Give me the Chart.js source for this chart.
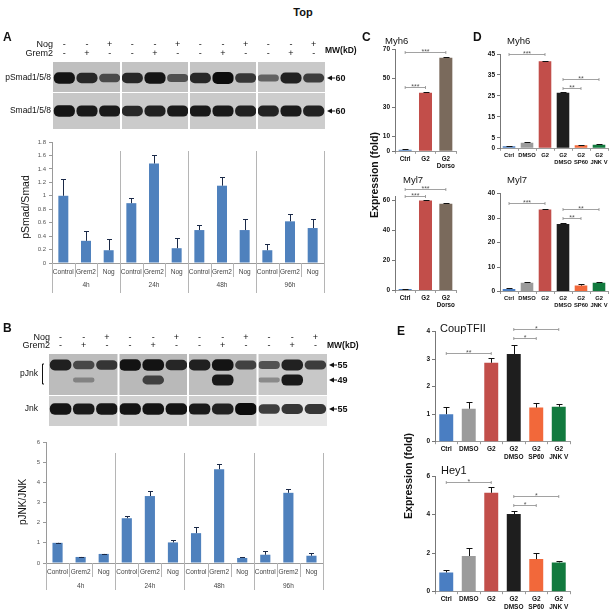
<!DOCTYPE html>
<html>
<head>
<meta charset="utf-8">
<title>Top</title>
<script src="https://cdn.jsdelivr.net/npm/chart.js@4.4.1/dist/chart.umd.min.js"></script>
<style>
  body { margin: 0; width: 615px; height: 613px; position: relative; overflow: hidden; background: #fff;
         font-family: Arial, "Liberation Sans", sans-serif; color: #111; }
  canvas { position: absolute; }
  .t { position: absolute; white-space: nowrap; line-height: 1; transform: translateY(-50%); z-index: 2; }
  .c { position: absolute; white-space: nowrap; line-height: 1; transform: translate(-50%, -50%); z-index: 2; }
  .v { position: absolute; white-space: nowrap; line-height: 1; transform: translate(-50%, -50%) rotate(-90deg); z-index: 2; }
</style>
</head>
<body>
<div class="c" style="left:303px;top:12px;font-size:11px;font-weight:bold">Top</div>
<div class="t" style="left:3px;top:37px;font-size:12px;font-weight:bold">A</div>
<div class="t" style="left:3px;top:328px;font-size:12px;font-weight:bold">B</div>
<div class="t" style="left:362px;top:37px;font-size:12px;font-weight:bold">C</div>
<div class="t" style="left:473px;top:37px;font-size:12px;font-weight:bold">D</div>
<div class="t" style="left:397px;top:331px;font-size:12px;font-weight:bold">E</div>
<div class="t" style="left:385px;top:41px;font-size:9.5px">Myh6</div>
<div class="t" style="left:507px;top:41px;font-size:9.5px">Myh6</div>
<div class="t" style="left:403px;top:180px;font-size:9.5px">Myl7</div>
<div class="t" style="left:507px;top:180px;font-size:9.5px">Myl7</div>
<div class="t" style="left:440px;top:328px;font-size:11px">CoupTFII</div>
<div class="t" style="left:441px;top:470px;font-size:11px">Hey1</div>
<div class="v" style="left:374px;top:175px;font-size:10.5px;font-weight:bold">Expression (fold)</div>
<div class="v" style="left:408px;top:476px;font-size:10.5px;font-weight:bold">Expression (fold)</div>
<div class="v" style="left:25px;top:207px;font-size:10.5px">pSmad/Smad</div>
<div class="v" style="left:23px;top:502px;font-size:10px">pJNK/JNK</div>

<script>
// ---- data ----
const timepoints = ['4h', '24h', '48h', '96h'];
const treatments = ['Control', 'Grem2', 'Nog'];
const nogSigns   = ['-', '-', '+', '-', '-', '+', '-', '-', '+', '-', '-', '+'];
const grem2Signs = ['-', '+', '-', '-', '+', '-', '-', '+', '-', '-', '+', '-'];

// band intensity (0-1) per lane
const pSmadBand  = [0.95, 0.8, 0.55, 0.8, 0.95, 0.5, 0.8, 1.0, 0.7, 0.4, 0.85, 0.65];
const smadBand   = [0.95, 0.9, 0.9, 0.8, 0.85, 0.9, 0.9, 0.9, 0.85, 0.85, 0.9, 0.85];
const pJnk55Band = [0.85, 0.55, 0.7, 0.95, 0.95, 0.8, 0.85, 0.95, 0.6, 0.5, 0.85, 0.65];
const pJnk49Band = [0, 0.1, 0, 0, 0.6, 0, 0, 0.9, 0, 0.1, 0.9, 0];
const jnkBand    = [0.95, 0.9, 0.92, 0.95, 0.95, 0.95, 0.9, 0.85, 1.0, 0.7, 0.75, 0.75];

const pSmadRatio = [1.0, 0.33, 0.19, 0.89, 1.48, 0.22, 0.49, 1.15, 0.49, 0.19, 0.62, 0.52];
const pSmadSD    = [0.25, 0.15, 0.16, 0.08, 0.12, 0.15, 0.08, 0.13, 0.16, 0.10, 0.11, 0.13];
const pSmadTicks = [0, 0.2, 0.4, 0.6, 0.8, 1, 1.2, 1.4, 1.6, 1.8];

const pJnkRatio = [1.0, 0.3, 0.45, 2.22, 3.32, 1.02, 1.48, 4.65, 0.25, 0.41, 3.48, 0.36];
const pJnkSD    = [0.01, 0.01, 0.01, 0.13, 0.23, 0.1, 0.29, 0.27, 0.03, 0.2, 0.17, 0.13];
const pJnkTicks = [0, 1, 2, 3, 4, 5, 6];

const cCats = ['Ctrl', 'G2', 'G2 Dorso'];
const cMyh6 = [1.0, 40, 64];
const cMyh6SD = [0.3, 0.5, 0.4];
const cMyh6Ticks = [0, 10, 30, 50, 70];
const cMyl7 = [1.0, 60, 57.8];
const cMyl7SD = [0.3, 0.6, 0.3];
const cMyl7Ticks = [0, 20, 40, 60];

const dCats = ['Ctrl', 'DMSO', 'G2', 'G2 DMSO', 'G2 SP60', 'G2 JNK V'];
const dMyh6 = [1.0, 2.6, 41.5, 26.5, 1.5, 1.7];
const dMyh6SD = [0.3, 0.5, 0.3, 0.4, 0.2, 0.2];
const dMyh6Ticks = [0, 5, 15, 25, 35, 45];
const dMyl7 = [1.0, 3.6, 33.5, 27.6, 2.4, 3.6];
const dMyl7SD = [0.3, 0.2, 0.3, 0.2, 0.8, 0.2];
const dMyl7Ticks = [0, 10, 20, 30, 40];

const eCoupTFII = [1.0, 1.2, 2.87, 3.19, 1.24, 1.27];
const eCoupTFIISD = [0.27, 0.25, 0.18, 0.31, 0.16, 0.1];
const eCoupTicks = [0, 1, 2, 3, 4];
const eHey1 = [1.0, 1.85, 5.13, 4.03, 1.69, 1.52];
const eHey1SD = [0.12, 0.4, 0.28, 0.17, 0.33, 0.08];
const eHey1Ticks = [0, 2, 4, 6];

// significance: [from, to, label, height]
const cMyh6Sig = [[0, 1, '***', 44], [0, 2, '***', 68]];
const cMyl7Sig = [[0, 1, '***', 62.7], [0, 2, '***', 67.8]];
const dMyh6Sig = [[0, 2, '***', 45], [3, 5, '**', 33], [3, 4, '**', 28.6]];
const dMyl7Sig = [[0, 2, '***', 36], [3, 5, '**', 33.6], [3, 4, '**', 29.9]];
const eCoupSig = [[0, 2, '**', 3.21], [3, 4, '*', 3.76], [3, 5, '*', 4.1]];
const eHey1Sig = [[0, 2, '*', 5.7], [3, 4, '*', 4.5], [3, 5, '*', 4.96]];

const catColors = {
  'Ctrl': '#4a7ec2', 'DMSO': '#9b9b9b', 'G2': '#c24e4a', 'G2 Dorso': '#7a6a5c',
  'G2 DMSO': '#1e1e1e', 'G2 SP60': '#f2683a', 'G2 JNK V': '#127a3e'
};

const laneLabels = timepoints.flatMap(() => treatments);

Chart.defaults.font.family = 'Arial, "Liberation Sans", sans-serif';
Chart.defaults.animation = false;
Chart.defaults.plugins.legend.display = false;
Chart.defaults.plugins.tooltip.enabled = false;

function mkCanvas(left, top, w, h) {
  const c = document.createElement('canvas');
  c.width = w; c.height = h;
  c.style.left = left + 'px'; c.style.top = top + 'px';
  document.body.appendChild(c);
  return c;
}

function splitLabel(s) {
  const i = s.indexOf(' ');
  return i < 0 ? s : [s.slice(0, i), s.slice(i + 1)];
}

// error bars (upper only) from dataset.sd
function errorBars(color, cap) {
  return {
    id: 'errorBars',
    afterDatasetsDraw(chart) {
      const ctx = chart.ctx, y = chart.scales.y;
      ctx.save();
      ctx.strokeStyle = color;
      ctx.lineWidth = 1;
      chart.data.datasets.forEach((ds, di) => {
        if (!ds.sd) return;
        chart.getDatasetMeta(di).data.forEach((bar, i) => {
          const top = Math.round(y.getPixelForValue(ds.data[i] + ds.sd[i])) + 0.5;
          const bx = Math.round(bar.x) + 0.5;
          ctx.beginPath();
          ctx.moveTo(bx, bar.y); ctx.lineTo(bx, top);
          ctx.moveTo(bx - cap, top); ctx.lineTo(bx + cap, top);
          ctx.stroke();
        });
      });
      ctx.restore();
    }
  };
}

function sigBars(items) {
  return {
    id: 'sig',
    afterDraw(chart) {
      const ctx = chart.ctx, x = chart.scales.x, y = chart.scales.y;
      ctx.save();
      ctx.strokeStyle = '#8a8a8a';
      ctx.fillStyle = '#555';
      ctx.lineWidth = 0.8;
      ctx.font = '7px Arial, "Liberation Sans", sans-serif';
      ctx.textAlign = 'center';
      ctx.textBaseline = 'alphabetic';
      items.forEach(([a, b, label, v]) => {
        const x0 = x.getPixelForValue(a), x1 = x.getPixelForValue(b);
        const py = Math.round(y.getPixelForValue(v)) + 0.5;
        ctx.beginPath();
        ctx.moveTo(x0, py); ctx.lineTo(x1, py);
        ctx.moveTo(x0, py - 1.5); ctx.lineTo(x0, py + 1.5);
        ctx.moveTo(x1, py - 1.5); ctx.lineTo(x1, py + 1.5);
        ctx.stroke();
        ctx.fillText(label, (x0 + x1) / 2, py + 1.5);
      });
      ctx.restore();
    }
  };
}

// Excel-like two level category axis
function groupAxis(o) {
  return {
    id: 'groupAxis',
    afterDraw(chart) {
      const ctx = chart.ctx, a = chart.chartArea, x = chart.scales.x;
      const step = x.getPixelForValue(1) - x.getPixelForValue(0);
      const n = treatments.length;
      ctx.save();
      ctx.strokeStyle = '#b5b5b5';
      ctx.lineWidth = 1;
      ctx.beginPath();
      ctx.moveTo(Math.round(a.left) + 0.5, a.bottom);
      ctx.lineTo(Math.round(a.left) + 0.5, o.sepBottom);
      for (let i = 1; i <= laneLabels.length; i++) {
        const px = Math.round(x.getPixelForValue(i - 1) + step / 2) + 0.5;
        if (i % n === 0) {
          ctx.moveTo(px, o.sepTop); ctx.lineTo(px, o.sepBottom);
        } else {
          ctx.moveTo(px, a.bottom); ctx.lineTo(px, a.bottom + o.shortLen);
        }
      }
      ctx.stroke();
      ctx.fillStyle = '#444';
      ctx.font = '6.5px Arial, "Liberation Sans", sans-serif';
      ctx.textAlign = 'center';
      ctx.textBaseline = 'middle';
      timepoints.forEach((t, g) => {
        const cx = (x.getPixelForValue(g * n) + x.getPixelForValue(g * n + n - 1)) / 2;
        ctx.fillText(t, cx, o.labelY);
      });
      ctx.restore();
    }
  };
}

function timeCourseChart(box, means, sds, yTicks, axisOpts) {
  const c = mkCanvas(box.left, box.top, box.w, box.h);
  return new Chart(c, {
    type: 'bar',
    data: {
      labels: laneLabels,
      datasets: [{ data: means, sd: sds, backgroundColor: '#4f81bd', barPercentage: 0.44, categoryPercentage: 1 }]
    },
    options: {
      responsive: false,
      layout: { padding: { top: box.padTop, right: box.padRight, left: 0, bottom: 0 } },
      scales: {
        x: {
          grid: { display: false, drawTicks: false },
          border: { color: '#9a9a9a' },
          ticks: { font: { size: 6.5 }, color: '#444', padding: 5.5, autoSkip: false, maxRotation: 0 },
          afterFit: s => { s.height = box.xh; }
        },
        y: {
          min: 0, max: yTicks[yTicks.length - 1],
          afterBuildTicks: s => { s.ticks = yTicks.map(v => ({ value: v })); },
          ticks: { font: { size: 6 }, color: '#555', padding: 3, callback: v => String(v) },
          grid: { drawOnChartArea: false, tickLength: 3, color: '#9a9a9a' },
          border: { color: '#9a9a9a' },
          afterFit: s => { s.width = box.yw; }
        }
      }
    },
    plugins: [errorBars('#1b2a48', 2.5), groupAxis(axisOpts)]
  });
}

function exprChart(box, cats, means, sds, yTicks, yMax, sig, fs) {
  const c = mkCanvas(box.left, box.top, box.w, box.h);
  return new Chart(c, {
    type: 'bar',
    data: {
      labels: cats.map(splitLabel),
      datasets: [{ data: means, sd: sds, backgroundColor: cats.map(k => catColors[k]), barPercentage: box.bp, categoryPercentage: 1 }]
    },
    options: {
      responsive: false,
      layout: { padding: { top: box.padTop, right: box.padRight, left: 0, bottom: 0 } },
      scales: {
        x: {
          grid: { drawOnChartArea: false, offset: true, tickLength: 2.5, color: '#9a9a9a' },
          border: { color: '#9a9a9a' },
          ticks: { font: { size: fs, weight: 'bold', lineHeight: 1.15 }, color: '#111', padding: 1.5, autoSkip: false, maxRotation: 0 },
          afterFit: s => { s.height = box.xh; }
        },
        y: {
          min: 0, max: yMax,
          afterBuildTicks: s => { s.ticks = yTicks.map(v => ({ value: v })); },
          grid: { drawOnChartArea: false, tickLength: 3, color: '#777' },
          border: { color: '#777' },
          ticks: { font: { size: 6.5, weight: 'bold' }, color: '#111', padding: 2 },
          afterFit: s => { s.width = box.yw; }
        }
      }
    },
    plugins: [errorBars('#111', 3), sigBars(sig)]
  });
}

// western blot strips drawn as floating bars on a lane axis
function blotChart(box, cfg) {
  const c = mkCanvas(box.left, box.top, box.w, box.h);
  const datasets = cfg.bands.map(b => ({
    data: b.values.map(v => v > 0 ? [b.center - (2 + 4 * v), b.center + (2 + 4 * v)] : null),
    backgroundColor: b.values.map(v => 'rgba(12,12,12,' + (0.25 + 0.75 * v).toFixed(2) + ')'),
    barPercentage: 0.93, categoryPercentage: 1, grouped: false, borderRadius: 5, borderSkipped: false
  }));
  const plugin = {
    id: 'blot',
    beforeDatasetsDraw(chart) {
      const ctx = chart.ctx, x = chart.scales.x, y = chart.scales.y;
      const step = x.getPixelForValue(1) - x.getPixelForValue(0);
      cfg.strips.forEach(s => {
        timepoints.forEach((t, g) => {
          const x0 = x.getPixelForValue(g * 3) - step / 2;
          ctx.fillStyle = s.fill[g];
          ctx.fillRect(x0, y.getPixelForValue(s.from), step * 3, y.getPixelForValue(s.to) - y.getPixelForValue(s.from));
        });
      });
    },
    afterDatasetsDraw(chart) {
      const ctx = chart.ctx, a = chart.chartArea, x = chart.scales.x;
      const step = x.getPixelForValue(1) - x.getPixelForValue(0);
      ctx.fillStyle = '#fff';
      for (let g = 1; g < timepoints.length; g++) {
        const bx = x.getPixelForValue(g * 3) - step / 2;
        ctx.fillRect(bx - 1, a.top, 2, a.height);
      }
    },
    afterDraw(chart) {
      const ctx = chart.ctx, a = chart.chartArea, x = chart.scales.x;
      ctx.save();
      ctx.fillStyle = '#111';
      ctx.strokeStyle = '#111';
      ctx.textBaseline = 'middle';
      ctx.font = '9px Arial, "Liberation Sans", sans-serif';
      cfg.rows.forEach(r => {
        ctx.textAlign = 'right';
        ctx.fillText(r.label, cfg.rowLabelX, r.y);
        ctx.textAlign = 'center';
        r.signs.forEach((s, i) => ctx.fillText(s, x.getPixelForValue(i), r.y));
      });
      ctx.textAlign = 'right';
      ctx.font = '8.5px Arial, "Liberation Sans", sans-serif';
      cfg.labels.forEach(l => ctx.fillText(l.text, l.x, l.y));
      if (cfg.bracket) {
        const b = cfg.bracket;
        ctx.lineWidth = 1;
        ctx.beginPath();
        ctx.moveTo(b.x + 2, b.y0); ctx.lineTo(b.x + 0.5, b.y0); ctx.lineTo(b.x + 0.5, b.y1); ctx.lineTo(b.x + 2, b.y1);
        ctx.stroke();
      }
      ctx.textAlign = 'left';
      ctx.font = 'bold 8.5px Arial, "Liberation Sans", sans-serif';
      ctx.fillText('MW(kD)', a.right, cfg.mwY);
      ctx.font = 'bold 9px Arial, "Liberation Sans", sans-serif';
      cfg.markers.forEach(m => {
        const x0 = a.right + 2;
        ctx.beginPath();
        ctx.moveTo(x0, m.y); ctx.lineTo(x0 + 5, m.y - 2.5); ctx.lineTo(x0 + 5, m.y + 2.5); ctx.closePath();
        ctx.fill();
        ctx.fillRect(x0 + 5, m.y - 0.5, 3, 1);
        ctx.fillText(m.text, x0 + 8.5, m.y + 0.5);
      });
      ctx.restore();
    }
  };
  return new Chart(c, {
    type: 'bar',
    data: { labels: laneLabels, datasets },
    options: {
      responsive: false,
      layout: { padding: box.pad },
      scales: { x: { display: false }, y: { display: false, min: 0, max: cfg.height, reverse: true } }
    },
    plugins: [plugin]
  });
}

// ---- panel A ----
blotChart({ left: 0, top: 40, w: 362, h: 95, pad: { top: 22, left: 53, right: 37, bottom: 6 } }, {
  height: 67,
  strips: [
    { from: 0, to: 30, fill: ['#bfbfbf', '#c3c3c3', '#c4c4c4', '#c9c9c9'] },
    { from: 31, to: 67, fill: ['#c7c7c7', '#cbcbcb', '#c9c9c9', '#cdcdcd'] }
  ],
  bands: [{ values: pSmadBand, center: 16 }, { values: smadBand, center: 49 }],
  rows: [{ label: 'Nog', y: 5, signs: nogSigns }, { label: 'Grem2', y: 13.3, signs: grem2Signs }],
  rowLabelX: 53,
  labels: [{ text: 'pSmad1/5/8', x: 51, y: 38 }, { text: 'Smad1/5/8', x: 51, y: 71 }],
  mwY: 11,
  markers: [{ text: '60', y: 38 }, { text: '60', y: 71 }]
});

timeCourseChart({ left: 0, top: 135, w: 330, h: 165, yw: 52, padTop: 7, xh: 37, padRight: 6 },
  pSmadRatio, pSmadSD, pSmadTicks, { sepTop: 16, sepBottom: 158, labelY: 150, shortLen: 14 });

// ---- panel B ----
blotChart({ left: 0, top: 330, w: 362, h: 100, pad: { top: 24, left: 49, right: 35, bottom: 4 } }, {
  height: 72,
  strips: [
    { from: 0, to: 41, fill: ['#bcbcbc', '#b9b9b9', '#bebebe', '#c8c8c8'] },
    { from: 42, to: 72, fill: ['#cecece', '#d0d0d0', '#cecece', '#e6e6e6'] }
  ],
  bands: [{ values: pJnk55Band, center: 11 }, { values: pJnk49Band, center: 26 }, { values: jnkBand, center: 55 }],
  rows: [{ label: 'Nog', y: 7.7, signs: nogSigns }, { label: 'Grem2', y: 15.7, signs: grem2Signs }],
  rowLabelX: 50,
  labels: [{ text: 'pJnk', x: 38, y: 43.5 }, { text: 'Jnk', x: 38, y: 79 }],
  bracket: { x: 42, y0: 34, y1: 54 },
  mwY: 15.7,
  markers: [{ text: '55', y: 35 }, { text: '49', y: 50 }, { text: '55', y: 79 }]
});

timeCourseChart({ left: 0, top: 435, w: 330, h: 160, yw: 46, padTop: 7, xh: 32, padRight: 7 },
  pJnkRatio, pJnkSD, pJnkTicks, { sepTop: 18, sepBottom: 155, labelY: 151, shortLen: 14 });

// ---- panel C ----
exprChart({ left: 360, top: 40, w: 100, h: 132, yw: 35, padTop: 9, xh: 20.7, padRight: 4, bp: 0.64 },
  cCats, cMyh6, cMyh6SD, cMyh6Ticks, 70, cMyh6Sig, 6.3);
exprChart({ left: 360, top: 172, w: 100, h: 140, yw: 35, padTop: 24, xh: 21.5, padRight: 4, bp: 0.64 },
  cCats, cMyl7, cMyl7SD, cMyl7Ticks, 63, cMyl7Sig, 6.3);

// ---- panel D ----
exprChart({ left: 460, top: 44, w: 152, h: 128, yw: 40, padTop: 10, xh: 23.7, padRight: 4, bp: 0.7 },
  dCats, dMyh6, dMyh6SD, dMyh6Ticks, 45, dMyh6Sig, 5.8);
exprChart({ left: 460, top: 180, w: 152, h: 132, yw: 40, padTop: 13.5, xh: 20.5, padRight: 4, bp: 0.7 },
  dCats, dMyl7, dMyl7SD, dMyl7Ticks, 40, dMyl7Sig, 5.8);

// ---- panel E ----
exprChart({ left: 395, top: 320, w: 180, h: 142, yw: 40, padTop: 11.7, xh: 20.3, padRight: 5, bp: 0.62 },
  dCats, eCoupTFII, eCoupTFIISD, eCoupTicks, 4, eCoupSig, 6.5);
exprChart({ left: 395, top: 466, w: 180, h: 146, yw: 40, padTop: 10, xh: 20.3, padRight: 5, bp: 0.62 },
  dCats, eHey1, eHey1SD, eHey1Ticks, 6, eHey1Sig, 6.5);
</script>
</body>
</html>
